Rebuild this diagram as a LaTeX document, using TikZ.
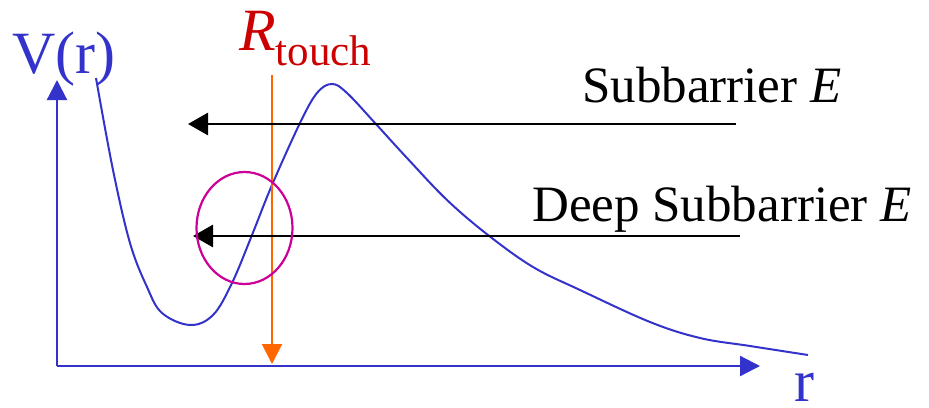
\documentclass[tikz,border=0pt]{standalone}
\usepackage{fontspec}
\setmainfont{Liberation Serif}
\usetikzlibrary{arrows.meta,positioning}
\definecolor{potblue}{HTML}{3333CC}
\definecolor{touchred}{HTML}{CC0000}
\definecolor{touchorange}{HTML}{FF6600}
\definecolor{ringmagenta}{HTML}{CC0099}

\begin{document}
\begin{tikzpicture}[
x=1pt,y=-1pt,
axis/.style={draw=potblue,line width=2.2pt,-{Triangle[length=20pt,width=20pt]}},
energy/.style={draw=black,line width=2.8pt,-{Triangle[length=20pt,width=22pt]}},
touchline/.style={draw=touchorange,line width=2pt,-{Triangle[length=20pt,width=20pt]}},
label/.style={anchor=base west,inner sep=0pt,font=\fontsize{51}{55}\selectfont},
axlabel/.style={anchor=base west,inner sep=0pt,text=potblue,font=\fontsize{60}{64}\selectfont}
]
\useasboundingbox (0,0) rectangle (929,407);

% axes
\coordinate (origin) at (57,366);
\coordinate (vtip) at (57,80);
\coordinate (rtip) at (760,366);
\draw[axis] (origin) -- (vtip);
\draw[axis] (origin) -- (rtip);
\node[axlabel] (vlabel) at (12,73) {V(r)};
\node[axlabel] (rlabel) at (794,401) {r};

% potential
\draw[potblue,line width=2pt] plot[smooth,tension=0.6] coordinates {
(96,78) (113,170) (130,243) (147,287) (162,313) (190,325) (213,315)
(232,283) (252,235) (272,185) (300,123) (317,93) (332,84) (347,93)
(375,123) (407,158) (447,200) (488,235) (533,267) (580,290) (650,322)
(700,338) (750,346) (808,355)};

% touching radius
\coordinate (rtop) at (272,75);
\coordinate (rbot) at (272,364);
\draw[touchline] (rtop) -- (rbot);
\node[anchor=base west,inner sep=0pt,text=touchred] (rtouch) at (239,50)
{\fontsize{60}{64}\selectfont\textit{R}\raisebox{-15pt}{\fontsize{43}{46}\selectfont touch}};

% energies
\coordinate (sub-start) at (736,124);
\coordinate (sub-end) at (188,124);
\coordinate (deep-start) at (740,236);
\coordinate (deep-end) at (193,236);
\draw[energy] (sub-start) -- (sub-end);
\draw[energy] (deep-start) -- (deep-end);
\node[label] (sublabel) at (582,102) {Subbarrier \textit{E}};
\node[label] (deeplabel) at (532,221) {Deep Subbarrier \textit{E}};

% contact region
\draw[ringmagenta,line width=2.2pt] (244.5,228) ellipse [x radius=48,y radius=56];
\end{tikzpicture}
\end{document}
